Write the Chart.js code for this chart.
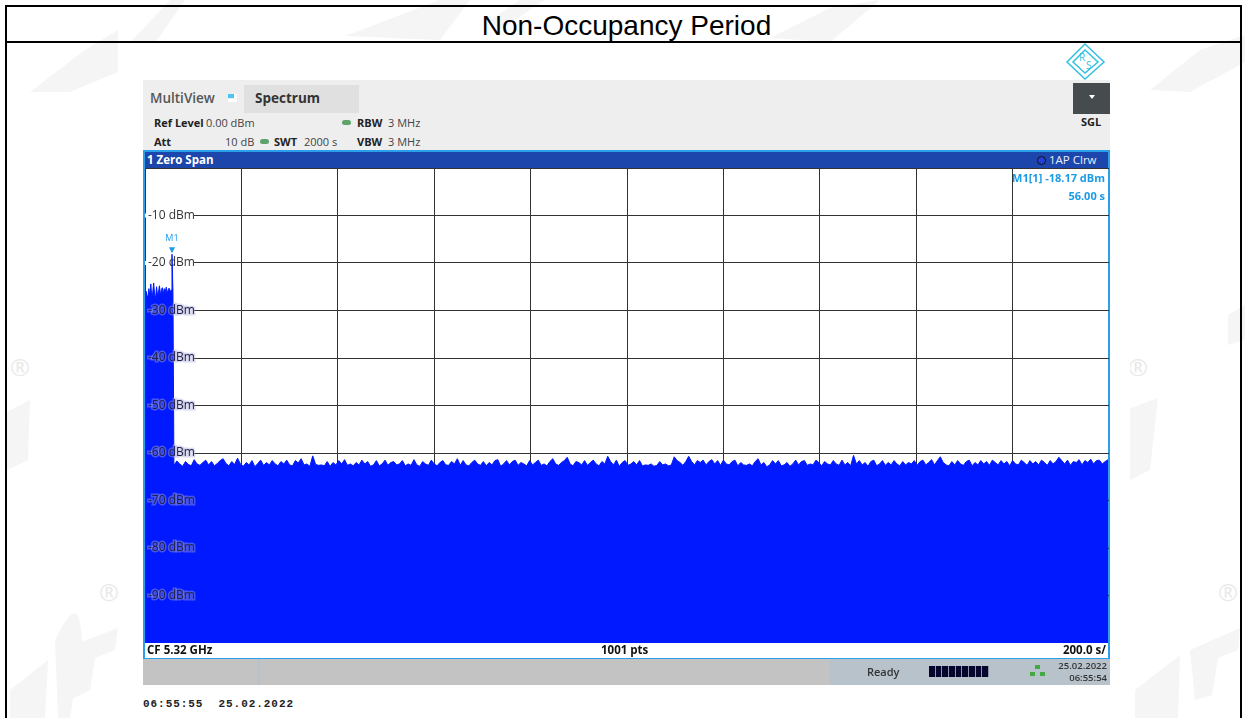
<!DOCTYPE html>
<html>
<head>
<meta charset="utf-8">
<title>Non-Occupancy Period</title>
<script src="https://cdn.jsdelivr.net/npm/chart.js@4"></script>
<style>
html, body { margin:0; padding:0; background:#fff; width:1245px; height:718px; overflow:hidden; }
body { font-family:"Open Sans", sans-serif; position:relative; color:#222; }
.abs { position:absolute; white-space:nowrap; }
.b { font-weight:700; }
#frame { left:5px; top:5px; width:1233px; height:730px; border:2px solid #000; box-sizing:content-box; }
#titleRule { left:5px; top:41px; width:1235px; height:2px; background:#000; }
#title { left:5px; width:1243px; top:8px; text-align:center; font:28px/36px "Liberation Sans", Arial, sans-serif; color:#000; }
#shot { left:120px; top:43px; width:1010px; height:672px; background:#fff; }
#panel { left:143px; top:80px; width:967px; height:70px; background:#eeeeee; }
#tab { left:244px; top:85px; width:115px; height:28px; background:#e0e0e0; }
#btn { left:1073px; top:83px; width:37px; height:31px; background:#464b4d; }
#plotFrame { left:143px; top:150px; width:963px; height:506px; border:2px solid #2a9fea; background:#fff; }
#titleBar { left:145px; top:152px; width:963px; height:16px; background:#1c46ab; }
#status1 { left:143px; top:659px; width:687px; height:26px; background:#c3c3c3; }
#status2 { left:830px; top:659px; width:280px; height:26px; background:#b8c2cb; }
canvas { position:absolute; left:145px; top:168px; }
.small { font-size:11px; line-height:14px; }
.blue { color:#1a9be8; font-weight:700; }
</style>
</head>
<body>
<svg class="abs" style="left:0;top:0" width="1245" height="718" fill="#f5f5f5">
  <!-- faint test-lab watermark -->
  <path d="M30 92 L85 50 L118 30 L118 72 L70 92 Z"/><path d="M128 45 L170 0 L185 0 L150 50 Z"/>
  <path d="M345 36 L440 0 L470 0 L440 40 Z"/><path d="M490 20 L520 0 L545 0 L500 30 Z"/>
  <path d="M770 38 L830 8 L880 0 L830 42 Z"/><path d="M1150 90 L1200 50 L1245 35 L1245 62 L1190 92 Z"/>
  <path d="M7 412 L30 400 L28 460 L7 470 Z"/><path d="M1120 412 L1158 398 L1150 470 L1130 480 Z"/><path d="M1228 315 L1245 305 L1245 340 L1228 345 Z"/>
  <path d="M10 690 L48 660 L45 718 L10 718 Z"/><path d="M55 640 C75 600 80 610 82 640 L70 718 L58 718 Z"/><path d="M60 650 L118 628 L115 650 L95 658 L90 690 L70 700 Z"/>
  <path d="M1135 690 L1180 655 L1178 718 L1135 718 Z"/><path d="M1190 650 L1240 628 L1238 650 L1218 658 L1212 695 L1195 700 Z"/>
  <g font-size="24" font-family="Open Sans" fill="#e9e9e9" text-anchor="middle">
    <text x="20" y="376">®</text><text x="1138" y="376">®</text><text x="109" y="601">®</text><text x="1228" y="601">®</text>
  </g>
</svg>
<div class="abs" id="frame"></div>
<div class="abs" id="titleRule"></div>
<div class="abs" id="title">Non-Occupancy Period</div>
<div class="abs" id="shot"></div>

<svg class="abs" style="left:1062px;top:42px" width="46" height="40" fill="none" stroke="#35bfe0">
  <path d="M23 2 L42 20 L23 37 L5 20 Z M23 8 L36 20 L23 31 L11 20 Z" stroke-width="1.5"/>
  <text x="17" y="19" font-size="10" font-family="Open Sans" fill="#35bfe0" stroke="none">R</text>
  <text x="24" y="27" font-size="10" font-family="Open Sans" fill="#35bfe0" stroke="none">S</text>
</svg>

<div class="abs" id="panel"></div>
<div class="abs" id="tab"></div>
<div class="abs" id="btn"></div>
<div class="abs" style="left:150px;top:89px;font-size:13.5px;line-height:18px;font-weight:600;color:#555">MultiView</div>
<div class="abs" style="left:228px;top:94px;width:6px;height:4px;background:#4cc4f4"></div>
<div class="abs" style="left:234px;top:94px;width:3px;height:4px;background:#fff"></div>
<div class="abs" style="left:228px;top:99px;width:9px;height:3px;background:#fff"></div>
<div class="abs" style="left:255px;top:89px;font-size:13.5px;line-height:18px;font-weight:700;color:#333">Spectrum</div>
<div class="abs" style="left:1089px;top:95px;border-left:3px solid transparent;border-right:3px solid transparent;border-top:4px solid #fff"></div>
<div class="abs small b" style="left:1068px;width:46px;text-align:center;top:115px">SGL</div>

<div class="abs small b" style="left:154px;top:116px">Ref Level</div>
<div class="abs small" style="left:206px;top:116px;color:#444">0.00 dBm</div>
<div class="abs" style="left:342px;top:120px;width:9px;height:5px;border-radius:3px;background:#5fa36b"></div>
<div class="abs small b" style="left:357px;top:116px">RBW</div>
<div class="abs small" style="left:388px;top:116px;color:#444">3 MHz</div>
<div class="abs small b" style="left:154px;top:135px">Att</div>
<div class="abs small" style="left:225px;top:135px;color:#444">10 dB</div>
<div class="abs" style="left:260px;top:139px;width:9px;height:5px;border-radius:3px;background:#5fa36b"></div>
<div class="abs small b" style="left:274px;top:135px">SWT</div>
<div class="abs small" style="left:304px;top:135px;color:#444">2000 s</div>
<div class="abs small b" style="left:357px;top:135px">VBW</div>
<div class="abs small" style="left:388px;top:135px;color:#444">3 MHz</div>

<div class="abs" id="plotFrame"></div>
<div class="abs" id="titleBar"></div>
<div class="abs b" style="left:147px;top:152px;font-size:11.5px;line-height:15px;color:#fff">1 Zero Span</div>
<div class="abs" style="left:1037px;top:156px;width:7px;height:7px;border-radius:50%;background:#2340d8;border:1px solid #111"></div>
<div class="abs" style="left:1049px;top:152px;font-size:11.5px;line-height:15px;color:#e6eefa">1AP Clrw</div>

<canvas id="trace" width="964" height="475"></canvas>

<div class="abs blue small" style="right:140px;top:171px">M1[1] -18.17 dBm</div>
<div class="abs blue small" style="right:140px;top:189px">56.00 s</div>

<div class="abs b" style="left:147px;top:642px;font-size:11.5px;line-height:16px;color:#111">CF 5.32 GHz</div>
<div class="abs b" style="left:601px;top:642px;font-size:11.5px;line-height:16px;color:#111">1001 pts</div>
<div class="abs b" style="right:139px;top:642px;font-size:11.5px;line-height:16px;color:#111">200.0 s/</div>

<div class="abs" id="status1"></div>
<div class="abs" id="status2"></div>
<div class="abs" style="left:257px;top:659px;width:3px;height:26px;background:#b8c2cb"></div>
<div class="abs b small" style="left:867px;top:665px;color:#333;font-weight:600">Ready</div>
<div class="abs" style="left:929px;top:666px;width:60px;height:11px;background:repeating-linear-gradient(90deg,#05052e 0 5.5px,#8b93a8 5.5px 6.67px)"></div>
<svg class="abs" style="left:1030px;top:665px" width="16" height="12" fill="#43a943"><rect x="5" y="0" width="5" height="4"/><rect x="0" y="7" width="5" height="4"/><rect x="10" y="7" width="5" height="4"/></svg>
<div class="abs" style="right:138px;top:660px;font-size:9.5px;line-height:12px;text-align:right;color:#333;font-weight:600">25.02.2022<br>06:55:54</div>
<div class="abs" style="left:143px;top:697px;font:bold 11px/14px 'Liberation Mono', monospace;letter-spacing:.95px;color:#222">06:55:55&nbsp;&nbsp;25.02.2022</div>

<script>
/* ===== DATA ===== */
const SWEEP_S = 2000, DIV_S = 200;
const REF_DBM = 0, BOTTOM_DBM = -100;
const M1_TIME = 56, M1_LEVEL = -18.17;

// burst at start of the sweep, one value every 2 s from 0 s
const burstLevels = [
  -27.0,-25.9,-26.8,-27.2,-25.4,-26.9,-24.4,-27.1,-26.3,-24.2,
  -26.7,-27.3,-25.0,-26.9,-26.1,-24.8,-26.8,-25.6,-25.2,-26.5,
  -25.4,-26.2,-25.1,-26.6,-25.6,-25.3,-26.1,-25.7,-18.17,-26.2
];
// noise floor, one value every 6 s from 60 s
const floorLevels = [
  -62.6,-61.7,-62.3,-62.8,-61.8,-62.4,-62.7,-61.4,-62.3,-62.6,-62.0,-61.5,-62.5,-61.8,-62.7,-62.2,-61.6,-61.2,
  -62.2,-62.7,-61.8,-62.4,-61.1,-62.3,-62.8,-62.0,-62.5,-61.6,-62.9,-62.2,-61.5,-62.6,-62.0,-62.5,-61.6,-62.3,
  -62.7,-61.8,-62.3,-61.5,-62.5,-62.7,-61.6,-62.1,-61.2,-62.5,-62.3,-62.8,-60.6,-62.4,-62.6,-62.5,-62.7,-61.8,
  -62.8,-62.0,-62.5,-61.6,-62.3,-61.4,-62.6,-62.3,-62.7,-62.0,-62.5,-61.5,-62.3,-61.8,-62.8,-62.5,-61.6,-62.7,
  -62.3,-61.5,-62.6,-62.0,-61.8,-62.5,-62.3,-61.6,-62.7,-62.3,-62.6,-61.4,-62.5,-62.8,-61.8,-62.3,-62.6,-61.5,
  -62.3,-62.7,-62.0,-61.6,-62.5,-62.6,-61.8,-62.3,-61.2,-62.6,-61.6,-62.5,-62.7,-62.0,-61.5,-62.3,-62.6,-61.8,
  -62.7,-62.0,-62.5,-61.6,-61.4,-62.8,-62.3,-61.6,-62.5,-61.8,-61.5,-62.6,-62.0,-62.3,-62.7,-61.6,-62.5,-62.0,
  -61.5,-62.6,-62.3,-62.7,-61.8,-61.2,-62.3,-62.6,-62.0,-61.6,-60.9,-62.3,-62.7,-61.8,-62.0,-62.5,-61.6,-62.6,
  -62.0,-61.5,-62.3,-62.7,-61.8,-62.3,-60.7,-61.8,-62.5,-61.5,-62.8,-62.0,-61.6,-62.6,-62.3,-61.8,-62.5,-61.6,
  -62.7,-62.5,-62.6,-62.3,-62.8,-62.6,-61.8,-62.5,-62.3,-62.7,-62.5,-60.8,-61.6,-62.0,-62.6,-61.8,-60.7,-61.8,
  -62.5,-61.6,-62.0,-61.5,-62.5,-61.8,-61.4,-62.3,-61.6,-62.6,-61.5,-62.3,-62.5,-61.8,-61.5,-62.7,-62.0,-62.5,
  -62.6,-62.3,-62.7,-61.8,-61.2,-62.5,-62.0,-62.9,-62.5,-61.6,-62.3,-61.6,-62.7,-62.5,-62.0,-62.8,-62.3,-61.5,
  -62.5,-61.8,-61.6,-62.6,-62.3,-62.5,-61.5,-62.0,-62.7,-61.8,-62.3,-62.5,-61.6,-62.3,-62.6,-61.5,-62.5,-62.0,
  -62.7,-60.5,-62.3,-61.6,-62.5,-62.0,-62.8,-61.8,-61.5,-62.7,-62.3,-61.6,-62.6,-62.0,-62.5,-61.6,-62.3,-62.7,
  -61.8,-62.5,-62.0,-62.3,-61.6,-62.6,-61.8,-61.5,-62.5,-62.0,-61.4,-62.5,-61.6,-60.8,-62.0,-62.5,-62.7,-61.8,
  -62.5,-61.6,-62.3,-62.6,-61.8,-61.5,-62.7,-62.0,-62.5,-61.6,-62.3,-61.8,-62.6,-61.5,-62.0,-62.5,-61.6,-62.3,
  -61.8,-62.7,-61.6,-62.3,-62.5,-61.5,-62.0,-62.6,-61.6,-62.3,-61.8,-62.5,-61.5,-62.0,-62.6,-61.6,-62.3,-61.8,
  -60.9,-61.6,-62.3,-61.5,-62.6,-61.8,-62.0,-61.4,-62.5,-61.6,-62.0,-61.3,-62.3,-61.6,-61.5,-62.3,-61.8,-61.4
];

const FILL = '#0019ff', MARK = '#1a9be8', GRID = '#333';

const points = [
  ...burstLevels.map((v, i) => ({ x: i * 2, y: v })),
  ...floorLevels.map((v, i) => ({ x: 60 + i * 6, y: v }))
];

/* ===== PLUGIN: white gap behind the level labels, M1 flag ===== */
const instrument = {
  id: 'instrument',
  beforeDatasetsDraw(chart) {
    const { ctx, scales: { y }, chartArea } = chart;
    ctx.save();
    ctx.fillStyle = '#fff';
    y.ticks.forEach(t => {
      if (t.value === REF_DBM || t.value === BOTTOM_DBM) return;
      ctx.fillRect(chartArea.left, y.getPixelForValue(t.value) - 2, 49, 4);
    });
    ctx.restore();
  },
  afterDatasetsDraw(chart) {
    const { ctx, scales: { x, y } } = chart;
    const px = x.getPixelForValue(M1_TIME), py = y.getPixelForValue(M1_LEVEL);
    ctx.save();
    ctx.fillStyle = MARK;
    ctx.beginPath();
    ctx.moveTo(px - 3, py - 7);
    ctx.lineTo(px + 3, py - 7);
    ctx.lineTo(px, py - 1);
    ctx.closePath();
    ctx.fill();
    ctx.font = '9px "Open Sans"';
    ctx.textAlign = 'center';
    ctx.fillText('M1', px, py - 13);
    ctx.restore();
  }
};

new Chart(document.getElementById('trace'), {
  type: 'line',
  data: {
    datasets: [{
      label: 'Trace 1',
      data: points,
      borderColor: FILL,
      backgroundColor: FILL,
      borderWidth: 1,
      pointRadius: 0,
      tension: 0,
      fill: 'start'
    }]
  },
  options: {
    responsive: false,
    animation: false,
    layout: { padding: 0 },
    plugins: { legend: { display: false }, tooltip: { enabled: false } },
    scales: {
      x: {
        type: 'linear',
        min: 0, max: SWEEP_S,
        afterFit: s => { s.height = 0; },
        border: { display: false },
        grid: { color: GRID, drawTicks: false },
        ticks: { display: false, stepSize: DIV_S }
      },
      y: {
        min: BOTTOM_DBM, max: REF_DBM,
        afterFit: s => { s.width = 0; s.paddingTop = 0; s.paddingBottom = 0; },
        border: { display: false },
        grid: { color: GRID, drawTicks: false },
        ticks: {
          mirror: true,
          z: 1,
          padding: 3,
          stepSize: 10,
          autoSkip: false,
          color: c => c.tick.value <= -30 ? '#20204a' : '#333',
          textStrokeColor: c => c.tick.value <= -30 ? 'rgba(170,170,220,.42)' : 'rgba(0,0,0,0)',
          textStrokeWidth: 3,
          font: { family: '"Open Sans"', size: 12 },
          callback: v => (v === REF_DBM || v === BOTTOM_DBM) ? '' : v + ' dBm'
        }
      }
    }
  },
  plugins: [instrument]
});
</script>
</body>
</html>
